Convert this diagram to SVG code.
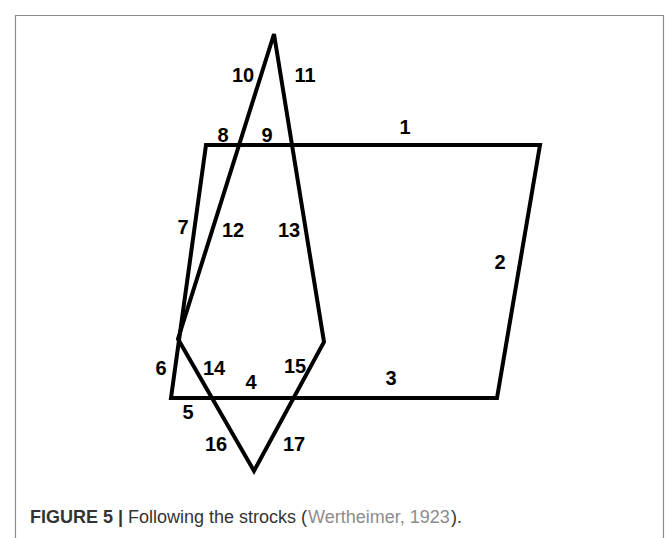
<svg xmlns="http://www.w3.org/2000/svg" width="670" height="538" viewBox="0 0 670 538">
<style>
.stroke{fill:none;stroke:#000;stroke-width:4;stroke-linejoin:miter;stroke-linecap:square}
.lbl{font-family:"Liberation Sans",Arial,sans-serif;font-weight:bold;font-size:20px;fill:#000}
.cap{font-family:"Liberation Sans",Arial,sans-serif;font-size:18px;fill:#333}
</style>
<rect width="670" height="538" fill="#fff"/>
<g id="frame">
<path d="M15.5,545 V15.5 H663.5 V545" fill="none" stroke="#8a8a8a" stroke-width="1.2"/>
</g>
<g id="connectors">
<g id="parallelogram">
<polygon class="stroke" points="206,145 540,145 497,398 171,398"/>
</g>
<g id="kite">
<polygon class="stroke" points="274,34 324,342 254,471 178,339"/>
</g>
</g>
<g id="labels">
<text class="lbl" x="405" y="134" text-anchor="middle">1</text>
<text class="lbl" x="500" y="269" text-anchor="middle">2</text>
<text class="lbl" x="391" y="385" text-anchor="middle">3</text>
<text class="lbl" x="251" y="389" text-anchor="middle">4</text>
<text class="lbl" x="188" y="419" text-anchor="middle">5</text>
<text class="lbl" x="161" y="375" text-anchor="middle">6</text>
<text class="lbl" x="183" y="234" text-anchor="middle">7</text>
<text class="lbl" x="223" y="142" text-anchor="middle">8</text>
<text class="lbl" x="267" y="142" text-anchor="middle">9</text>
<text class="lbl" x="243" y="82" text-anchor="middle">10</text>
<text class="lbl" x="305" y="82" text-anchor="middle">11</text>
<text class="lbl" x="233" y="237" text-anchor="middle">12</text>
<text class="lbl" x="289" y="237" text-anchor="middle">13</text>
<text class="lbl" x="214" y="375" text-anchor="middle">14</text>
<text class="lbl" x="295" y="373" text-anchor="middle">15</text>
<text class="lbl" x="216" y="451" text-anchor="middle">16</text>
<text class="lbl" x="294" y="451" text-anchor="middle">17</text>
</g>
<g id="caption">
<text class="cap" x="30" y="523" font-weight="bold">FIGURE 5 |</text>
<text class="cap" x="128" y="523">Following the strocks (</text>
<text class="cap" x="308" y="523" style="fill:#8c8c8c">Wertheimer, 1923</text>
<text class="cap" x="451" y="523">).</text>
</g>
</svg>
